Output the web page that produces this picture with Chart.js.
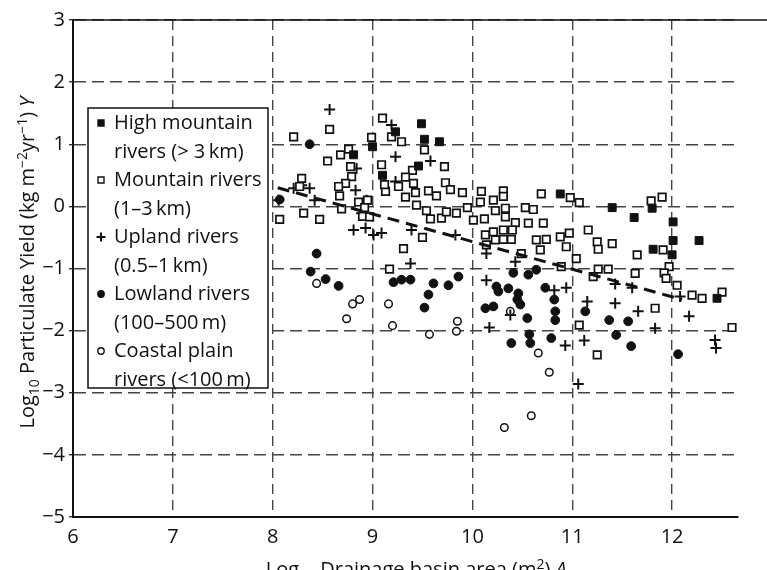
<!DOCTYPE html>
<html>
<head>
<meta charset="utf-8">
<script src="https://cdn.jsdelivr.net/npm/chart.js@4.4.1/dist/chart.umd.min.js"></script>
<style>
  html, body { margin: 0; padding: 0; background: #fff; overflow: hidden; }
  canvas { display: block; }
</style>
</head>
<body>
<canvas id="yieldChart" width="767" height="570"></canvas>
<script>
const FONT = '"Open Sans", "Noto Sans", sans-serif'

// [log10 basin area, log10 particulate yield]
const highMountain = [
  [8.81, 0.83], [9.00, 0.96], [9.10, 0.50], [9.23, 1.20], [9.49, 1.33], [9.52, 1.08], [9.67, 1.04],
  [9.46, 0.65], [10.88, 0.20], [11.40, -0.02], [11.62, -0.18], [11.80, -0.03], [12.01, -0.25],
  [12.01, -0.55], [12.27, -0.55], [11.81, -0.69], [12.00, -0.78], [12.80, -0.68], [12.45, -1.48]
]

const mountain = [
  [8.07, -0.21], [8.21, 1.12], [8.29, 0.45], [8.27, 0.32], [8.31, -0.11], [8.47, -0.21], [8.57, 1.24],
  [8.55, 0.73], [8.68, 0.83], [8.76, 0.92], [8.78, 0.64], [8.79, 0.48], [8.73, 0.37], [8.66, 0.32],
  [8.67, 0.17], [8.69, -0.04], [8.86, 0.07], [8.95, 0.10], [8.90, -0.16], [8.97, -0.17], [8.99, 1.11],
  [8.92, -0.02], [9.10, 1.42], [9.19, 1.12], [9.29, 1.04], [9.52, 0.91], [9.72, 0.64], [9.40, 0.58],
  [9.09, 0.67], [9.33, 0.47], [9.41, 0.37], [9.13, 0.24], [9.26, 0.32], [9.33, 0.15], [9.43, 0.22],
  [9.56, 0.25], [9.64, 0.17], [9.73, 0.38], [9.78, 0.27], [9.90, 0.22], [9.44, 0.02], [9.54, -0.07],
  [9.58, -0.20], [9.69, -0.19], [9.74, -0.09], [9.84, -0.11], [9.95, -0.02], [9.50, -0.50],
  [9.31, -0.68], [9.17, -1.01], [9.12, 0.35], [10.01, -0.22], [10.12, -0.20], [10.09, 0.24],
  [10.08, 0.07], [10.21, 0.10], [10.31, 0.25], [10.31, 0.16], [10.23, -0.07], [10.33, -0.03],
  [10.33, -0.17], [10.43, -0.26], [10.40, -0.38], [10.53, -0.02], [10.61, -0.05], [10.56, -0.27],
  [10.71, -0.27], [10.69, 0.20], [10.98, 0.14], [10.13, -0.46], [10.21, -0.41], [10.31, -0.38],
  [10.31, -0.53], [10.39, -0.53], [10.23, -0.54], [10.14, -0.62], [10.64, -0.54], [10.74, -0.53],
  [10.68, -0.70], [10.88, -0.49], [10.97, -0.43], [10.94, -0.65], [10.49, -0.76], [10.89, -0.97],
  [11.07, 0.06], [11.79, 0.09], [11.90, 0.15], [11.04, -0.84], [11.16, -0.38], [11.25, -0.57],
  [11.26, -0.69], [11.40, -0.60], [11.65, -0.78], [11.91, -0.70], [11.97, -0.97], [11.92, -1.07],
  [11.94, -1.16], [12.05, -1.27], [12.20, -1.43], [12.30, -1.48], [12.50, -1.38], [11.21, -1.13],
  [11.26, -1.01], [11.36, -1.01], [11.63, -1.08], [11.83, -1.64], [12.60, -1.95], [11.25, -2.39],
  [11.07, -1.91]
]

const upland = [
  [8.06, 0.10], [8.21, 0.29], [8.29, 0.34], [8.37, 0.29], [8.42, 0.10], [8.57, 1.56], [8.84, 0.61],
  [8.83, 0.26], [8.94, 0.10], [8.89, -0.11], [8.81, -0.38], [8.93, -0.35], [9.01, -0.46], [9.09, -0.43],
  [9.19, 1.31], [9.23, 0.80], [9.58, 0.73], [9.23, 0.40], [9.39, -0.38], [9.83, -0.46], [9.38, -0.92],
  [10.14, -0.76], [10.43, -0.89], [10.14, -1.19], [10.38, -1.75], [10.17, -1.95], [10.82, -1.35],
  [10.94, -1.31], [10.93, -2.24], [11.12, -2.16], [11.06, -2.86], [11.15, -1.53], [11.43, -1.25],
  [11.60, -1.31], [11.43, -1.56], [11.66, -1.69], [11.83, -1.96], [12.08, -1.45], [12.17, -1.77],
  [12.43, -2.15], [12.44, -2.28]
]

const lowland = [
  [8.07, 0.11], [8.37, 1.00], [8.44, -0.76], [8.38, -1.05], [8.53, -1.17], [8.66, -1.28],
  [9.21, -1.22], [9.29, -1.18], [9.38, -1.18], [9.61, -1.24], [9.56, -1.42], [9.52, -1.63],
  [9.76, -1.27], [9.86, -1.13], [10.24, -1.29], [10.26, -1.37], [10.36, -1.32], [10.46, -1.40],
  [10.45, -1.50], [10.48, -1.58], [10.13, -1.64], [10.21, -1.61], [10.55, -1.80], [10.41, -1.07],
  [10.56, -1.10], [10.64, -1.02], [10.73, -1.31], [10.82, -1.50], [10.83, -1.69], [10.83, -1.83],
  [11.13, -1.69], [10.39, -2.20], [10.57, -2.06], [10.58, -2.20], [10.79, -2.12], [11.37, -1.83],
  [11.56, -1.85], [11.44, -2.07], [11.59, -2.25], [12.06, -2.38]
]

const coastal = [
  [8.44, -1.24], [8.80, -1.57], [8.87, -1.50], [8.74, -1.81], [9.16, -1.57], [9.20, -1.92],
  [9.57, -2.06], [9.85, -1.85], [9.84, -2.01], [10.38, -1.69], [10.66, -2.36], [10.77, -2.67],
  [10.59, -3.37], [10.32, -3.56]
]

// fitted trend (dashed)
const trendX = [8.05, 12.1]
const trendY = [0.30, -1.50]

const xTicks = [6, 7, 8, 9, 10, 11, 12]
const yTicks = [3, 2, 1, 0, -1, -2, -3, -4, -5]

const legendLabels = [
  ['High mountain', 'rivers (> 3\u2009km)'],
  ['Mountain rivers', '(1\u20133\u2009km)'],
  ['Upland rivers', '(0.5\u20131\u2009km)'],
  ['Lowland rivers', '(100\u2013500\u2009m)'],
  ['Coastal plain', 'rivers (<100\u2009m)']
]

const yTitle = [['Log', ''], ['10', 'sub'], [' Particulate Yield (kg m', ''], ['\u22122', 'sup'],
  ['yr', ''], ['\u22121', 'sup'], [') ', ''], ['Y', 'it']]
const xTitle = [['Log', ''], ['10', 'sub'], [' Drainage basin area (m', ''], ['2', 'sup'],
  [') ', ''], ['A', 'it'], ['d', 'sub']]

const toPoints = arr => arr.map(([x, y]) => ({ x, y }))

function partFont(style, size) {
  const s = style === 'sub' || style === 'sup' ? Math.round(size * 0.7) : size
  return (style === 'it' ? 'italic ' : '') + s + 'px ' + FONT
}

// draws text with sub/superscripts centred on (cx, cy)
function drawRich(ctx, parts, size, cx, cy, angle) {
  ctx.save()
  ctx.translate(cx, cy)
  ctx.rotate(angle)
  ctx.fillStyle = '#111'
  ctx.textBaseline = 'alphabetic'
  let total = 0
  const widths = parts.map(([t, st]) => {
    ctx.font = partFont(st, size)
    const w = ctx.measureText(t).width
    total += w
    return w
  })
  let x = -total / 2
  parts.forEach(([t, st], i) => {
    ctx.font = partFont(st, size)
    let dy = size * 0.36
    if (st === 'sub') dy += size * 0.22
    if (st === 'sup') dy -= size * 0.38
    ctx.fillText(t, x, dy)
    x += widths[i]
  })
  ctx.restore()
}

function drawMarker(ctx, ds, x, y) {
  ctx.save()
  ctx.lineWidth = 1.4
  ctx.strokeStyle = '#111'
  ctx.fillStyle = ds.backgroundColor
  ctx.beginPath()
  if (ds.pointStyle === 'rect') {
    ctx.rect(x - 3, y - 3, 6, 6)
    ctx.fill(); ctx.stroke()
  } else if (ds.pointStyle === 'circle') {
    ctx.arc(x, y, 3.2, 0, Math.PI * 2)
    ctx.fill(); ctx.stroke()
  } else {
    ctx.lineWidth = 2
    ctx.moveTo(x - 4.5, y); ctx.lineTo(x + 4.5, y)
    ctx.moveTo(x, y - 4.5); ctx.lineTo(x, y + 4.5)
    ctx.stroke()
  }
  ctx.restore()
}

const frameAndText = {
  id: 'frameAndText',
  afterDatasetsDraw(chart) {
    const { ctx, chartArea } = chart
    // top frame line
    ctx.save()
    ctx.strokeStyle = '#111'
    ctx.lineWidth = 1.6
    ctx.beginPath()
    ctx.moveTo(chartArea.left, chartArea.top)
    ctx.lineTo(chart.width, chartArea.top)
    ctx.stroke()
    ctx.restore()

    // legend box
    const left = chartArea.left + 15
    const top = chartArea.top + 88
    ctx.save()
    ctx.fillStyle = '#fff'
    ctx.fillRect(left, top, 180, 280)
    ctx.strokeStyle = '#111'
    ctx.lineWidth = 1.5
    ctx.strokeRect(left, top, 180, 280)
    ctx.font = '20px ' + FONT
    ctx.fillStyle = '#111'
    ctx.textBaseline = 'middle'
    const series = chart.data.datasets.slice(1)
    legendLabels.forEach((lines, i) => {
      const y = top + 15 + i * 57
      drawMarker(ctx, series[i], left + 13, y)
      ctx.fillText(lines[0], left + 26, y)
      ctx.fillText(lines[1], left + 26, y + 29)
    })
    ctx.restore()

    drawRich(ctx, yTitle, 20, 27, (chartArea.top + chartArea.bottom) / 2 - 6, -Math.PI / 2)
    drawRich(ctx, xTitle, 20, (chartArea.left + chartArea.right) / 2 + 15, chartArea.bottom + 52, 0)
  }
}

const ctx = document.getElementById('yieldChart').getContext('2d')

const chart = new Chart(ctx, {
  type: 'scatter',
  data: {
    datasets: [
      {
        type: 'line',
        label: 'Trend',
        data: trendX.map((x, i) => ({ x, y: trendY[i] })),
        borderColor: '#111',
        borderWidth: 3,
        borderDash: [12, 7],
        pointRadius: 0,
        fill: false
      },
      {
        label: 'High mountain rivers',
        data: toPoints(highMountain),
        pointStyle: 'rect',
        pointRadius: 5.6,
        backgroundColor: '#111',
        borderColor: '#111',
        borderWidth: 1,
        clip: false
      },
      {
        label: 'Mountain rivers',
        data: toPoints(mountain),
        pointStyle: 'rect',
        pointRadius: 5.3,
        backgroundColor: '#fff',
        borderColor: '#111',
        borderWidth: 1.7,
        clip: false
      },
      {
        label: 'Upland rivers',
        data: toPoints(upland),
        pointStyle: 'cross',
        pointRadius: 5.5,
        backgroundColor: '#111',
        borderColor: '#111',
        borderWidth: 2,
        clip: false
      },
      {
        label: 'Lowland rivers',
        data: toPoints(lowland),
        pointStyle: 'circle',
        pointRadius: 4.4,
        backgroundColor: '#111',
        borderColor: '#111',
        borderWidth: 1,
        clip: false
      },
      {
        label: 'Coastal plain rivers',
        data: toPoints(coastal),
        pointStyle: 'circle',
        pointRadius: 3.8,
        backgroundColor: '#fff',
        borderColor: '#111',
        borderWidth: 1.5,
        clip: false
      }
    ]
  },
  options: {
    responsive: false,
    animation: false,
    events: [],
    layout: { padding: { top: 20, right: 29, left: 0, bottom: 0 } },
    plugins: {
      legend: { display: false },
      tooltip: { enabled: false }
    },
    scales: {
      x: {
        type: 'linear',
        min: 6,
        max: 12.66,
        afterBuildTicks: s => { s.ticks = xTicks.map(v => ({ value: v })) },
        afterFit: s => { s.height = 53 },
        grid: { color: '#444', lineWidth: 1.4, drawTicks: false },
        border: { display: true, color: '#111', width: 2, dash: [10, 6] },
        ticks: { color: '#111', font: { family: FONT, size: 20 }, padding: 8, maxRotation: 0 }
      },
      y: {
        type: 'linear',
        min: -5,
        max: 3,
        afterBuildTicks: s => { s.ticks = yTicks.map(v => ({ value: v })) },
        afterFit: s => { s.width = 73 },
        grid: { color: '#444', lineWidth: 1.4, drawTicks: true, tickLength: 4, tickColor: '#333' },
        border: { display: true, color: '#111', width: 2, dash: [12, 6] },
        ticks: {
          color: '#111',
          font: { family: FONT, size: 20 },
          padding: 4,
          callback: v => String(v).replace('-', '\u2212')
        }
      }
    }
  },
  plugins: [frameAndText]
})
</script>
</body>
</html>
